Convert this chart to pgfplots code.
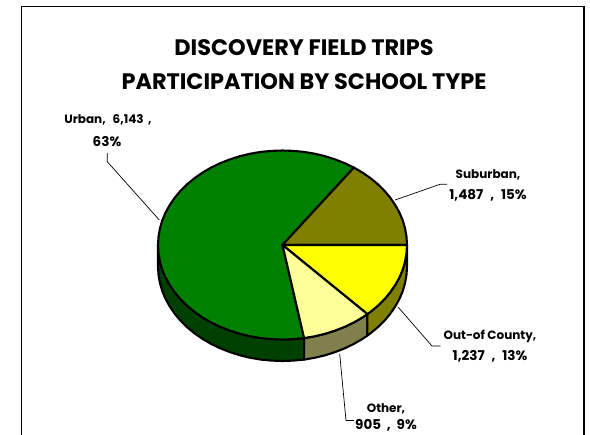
\documentclass[border=0pt]{standalone}
\usepackage{fontspec}
\setmainfont{Poppins}
\usepackage{pgfplots}
\pgfplotsset{compat=1.18}
\definecolor{urbanc}{RGB}{0,128,0}
\definecolor{suburbc}{RGB}{128,128,0}
\definecolor{outc}{RGB}{255,255,0}
\definecolor{otherc}{RGB}{255,255,153}
\definecolor{urbanside}{RGB}{0,64,0}
\definecolor{otherside}{RGB}{128,128,77}
\tikzset{
    pie/.style={draw=black, line width=2.1pt, line join=round},
    leader/.style={black, line width=0.7pt},
    lab/.style={font=\bfseries\fontsize{12}{14}\selectfont, anchor=center, inner sep=1pt},
    num/.style={font=\bfseries\fontsize{13.5}{15}\selectfont, anchor=center, inner sep=1pt},
}
\begin{document}
\begin{tikzpicture}
\useasboundingbox (0,0) rectangle (590pt,435pt);
\begin{axis}[
    at={(0,0)}, anchor=south west,
    scale only axis, width=590pt, height=435pt,
    xmin=0, xmax=590, ymin=0, ymax=435, y dir=reverse,
    axis lines=none, clip=true,
]
% outer frame, runs off the bottom of the picture
\addplot[black, line width=1.3pt] coordinates {(21.7,445) (21.7,6.5) (584,6.5) (584,445)};

% leader lines
\addplot[leader] coordinates {(107.3,153) (107.3,161.7) (159.3,220)};
\addplot[leader] coordinates {(395,200) (440,184.3) (447,184.3)};
\addplot[leader] coordinates {(398,307) (432,346) (440.6,346)};
\addplot[leader] coordinates {(339.7,354) (346,420.6) (354,420.6)};

% side walls
\addplot[pie, fill=urbanside] coordinates {
 (158.0,245.0) (158.5,253.2) (159.9,261.4) (162.2,269.5) (165.5,277.3) (169.7,284.9)
 (174.7,292.2) (180.5,299.2) (187.1,305.7) (194.5,311.8) (202.5,317.4) (211.1,322.4)
 (220.2,326.8) (229.9,330.6) (239.9,333.8) (250.3,336.3) (260.9,338.1) (271.6,339.1)
 (282.5,339.5) (293.4,339.1) (304.1,338.1)
 (304.1,359.6) (293.4,360.6) (282.5,361.0) (271.6,360.6) (260.9,359.6) (250.3,357.8)
 (239.9,355.3) (229.9,352.1) (220.2,348.3) (211.1,343.9) (202.5,338.9) (194.5,333.3)
 (187.1,327.2) (180.5,320.7) (174.7,313.7) (169.7,306.4) (165.5,298.8) (162.2,291.0)
 (159.9,282.9) (158.5,274.7) (158.0,266.5)
} -- cycle;
\addplot[pie, fill=otherside] coordinates {
 (304.1,338.1) (314.7,336.3) (325.1,333.8) (335.1,330.6) (344.8,326.8) (353.9,322.4)
 (362.5,317.4) (367.4,314.1)
 (367.4,335.6) (362.5,338.9) (353.9,343.9) (344.8,348.3) (335.1,352.1) (325.1,355.3)
 (314.7,357.8) (304.1,359.6)
} -- cycle;
\addplot[pie, fill=suburbc] coordinates {
 (367.4,314.1) (370.5,311.8) (377.9,305.7) (384.5,299.2) (390.3,292.2) (395.3,284.9)
 (399.5,277.3) (402.8,269.5) (405.1,261.4) (406.5,253.2) (407.0,245.0)
 (407.0,266.5) (406.5,274.7) (405.1,282.9) (402.8,291.0) (399.5,298.8) (395.3,306.4)
 (390.3,313.7) (384.5,320.7) (377.9,327.2) (370.5,333.3) (367.4,335.6)
} -- cycle;

% Urban 6,143
\addplot[pie, fill=urbanc] coordinates {
 (282.5,245) (353.9,167.6) (344.8,163.2) (335.1,159.4) (325.1,156.2) (314.7,153.7)
 (304.1,151.9) (293.4,150.9) (282.5,150.5) (271.6,150.9) (260.9,151.9) (250.3,153.7)
 (239.9,156.2) (229.9,159.4) (220.2,163.2) (211.1,167.6) (202.5,172.6) (194.5,178.2)
 (187.1,184.3) (180.5,190.8) (174.7,197.8) (169.7,205.1) (165.5,212.7) (162.2,220.5)
 (159.9,228.6) (158.5,236.8) (158.0,245.0) (158.5,253.2) (159.9,261.4) (162.2,269.5)
 (165.5,277.3) (169.7,284.9) (174.7,292.2) (180.5,299.2) (187.1,305.7) (194.5,311.8)
 (202.5,317.4) (211.1,322.4) (220.2,326.8) (229.9,330.6) (239.9,333.8) (250.3,336.3)
 (260.9,338.1) (271.6,339.1) (282.5,339.5) (293.4,339.1) (304.1,338.1)
} -- cycle;
% Suburban 1,487
\addplot[pie, fill=suburbc] coordinates {
 (282.5,245) (407.0,245.0) (406.5,236.8) (405.1,228.6) (402.8,220.5) (399.5,212.7)
 (395.3,205.1) (390.3,197.8) (384.5,190.8) (377.9,184.3) (370.5,178.2) (362.5,172.6)
 (353.9,167.6)
} -- cycle;
% Out-of County 1,237
\addplot[pie, fill=outc] coordinates {
 (282.5,245) (367.4,314.1) (370.5,311.8) (377.9,305.7) (384.5,299.2) (390.3,292.2)
 (395.3,284.9) (399.5,277.3) (402.8,269.5) (405.1,261.4) (406.5,253.2) (407.0,245.0)
} -- cycle;
% Other 905
\addplot[pie, fill=otherc] coordinates {
 (282.5,245) (304.1,338.1) (314.7,336.3) (325.1,333.8) (335.1,330.6) (344.8,326.8)
 (353.9,322.4) (362.5,317.4) (367.4,314.1)
} -- cycle;

% title and labels
\node[font=\bfseries\fontsize{22.4}{26}\selectfont] at (axis cs:304,48) {DISCOVERY FIELD TRIPS};
\node[font=\bfseries\fontsize{22.4}{26}\selectfont] at (axis cs:304,82) {PARTICIPATION BY SCHOOL TYPE};
\node[lab] at (axis cs:108,120) {Urban,\hspace{7pt}6,143\hspace{2pt} ,};
\node[num] at (axis cs:107,142) {63\%};
\node[lab] at (axis cs:488,175) {Suburban,};
\node[num] at (axis cs:488,195) {1,487\hspace{4pt} ,\hspace{4pt} 15\%};
\node[lab] at (axis cs:490,336) {Out-of County,};
\node[num] at (axis cs:490,356) {1,237\hspace{4pt} ,\hspace{4pt} 13\%};
\node[lab] at (axis cs:386,409) {Other,};
\node[num] at (axis cs:386,425) {905\hspace{3pt} ,\hspace{3pt} 9\%};
\end{axis}
\end{tikzpicture}
\end{document}
